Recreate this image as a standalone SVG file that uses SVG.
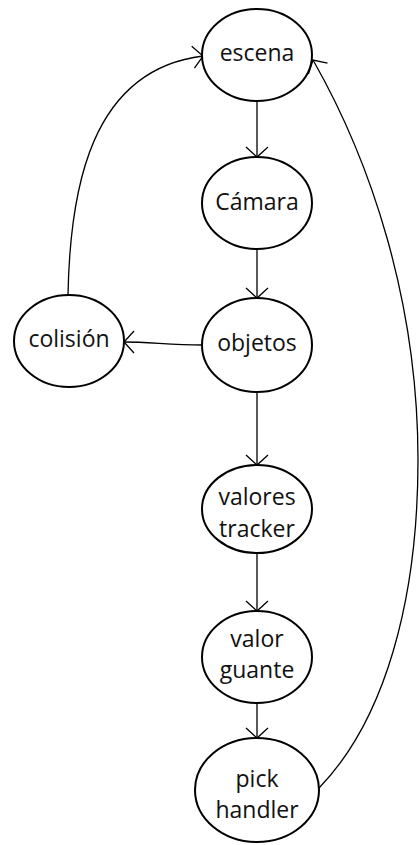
<svg xmlns="http://www.w3.org/2000/svg" width="419" height="845" viewBox="0 0 419 845">
<style>
.node ellipse{fill:#fff;stroke:#000;stroke-width:2}
.node text{font-family:"Open Sans","Liberation Sans",sans-serif;font-size:23px;fill:#111;text-anchor:middle}
.edge{fill:none;stroke:#000;stroke-width:1.3;marker-end:url(#arr)}
</style>
<defs>
<marker id="arr" markerUnits="userSpaceOnUse" markerWidth="30" markerHeight="30" refX="0" refY="0" viewBox="-15 -15 30 30" orient="auto" overflow="visible">
<path d="M-10,-11 L0,0 L-10,11" fill="none" stroke="#000" stroke-width="1.3"/>
</marker>
</defs>
<rect width="419" height="845" fill="#fff"/>
<g id="connectors">
<path class="edge" d="M257,101 L257,157"/>
<path class="edge" d="M257,249 L257,298"/>
<path class="edge" d="M257,392 L257,465"/>
<path class="edge" d="M257,553 L257,611"/>
<path class="edge" d="M257,703 L257,738"/>
<path class="edge" d="M202,345 C170,345 150,342 124,342"/>
<path class="edge" d="M68,295 C70,190 90,70 203,56"/>
<path class="edge" d="M319,788 C385,720 418,600 418,460 C418,300 370,160 313,60"/>
</g>
<g id="escena" class="node"><ellipse cx="257" cy="55" rx="55" ry="46"/><text x="257" y="61">escena</text></g>
<g id="camara" class="node"><ellipse cx="257" cy="203" rx="55" ry="46"/><text x="257" y="210">Cámara</text></g>
<g id="objetos" class="node"><ellipse cx="257" cy="345" rx="55" ry="47"/><text x="257" y="351">objetos</text></g>
<g id="colision" class="node"><ellipse cx="69" cy="341" rx="55" ry="46"/><text x="69" y="347">colisión</text></g>
<g id="valores" class="node"><ellipse cx="257" cy="509" rx="55" ry="44"/><text x="257" y="505">valores</text><text x="257" y="537">tracker</text></g>
<g id="guante" class="node"><ellipse cx="257" cy="657" rx="55" ry="46"/><text x="257" y="647">valor</text><text x="257" y="678">guante</text></g>
<g id="pick" class="node"><ellipse cx="257" cy="790" rx="62" ry="52"/><text x="257" y="787">pick</text><text x="257" y="818">handler</text></g>
</svg>
